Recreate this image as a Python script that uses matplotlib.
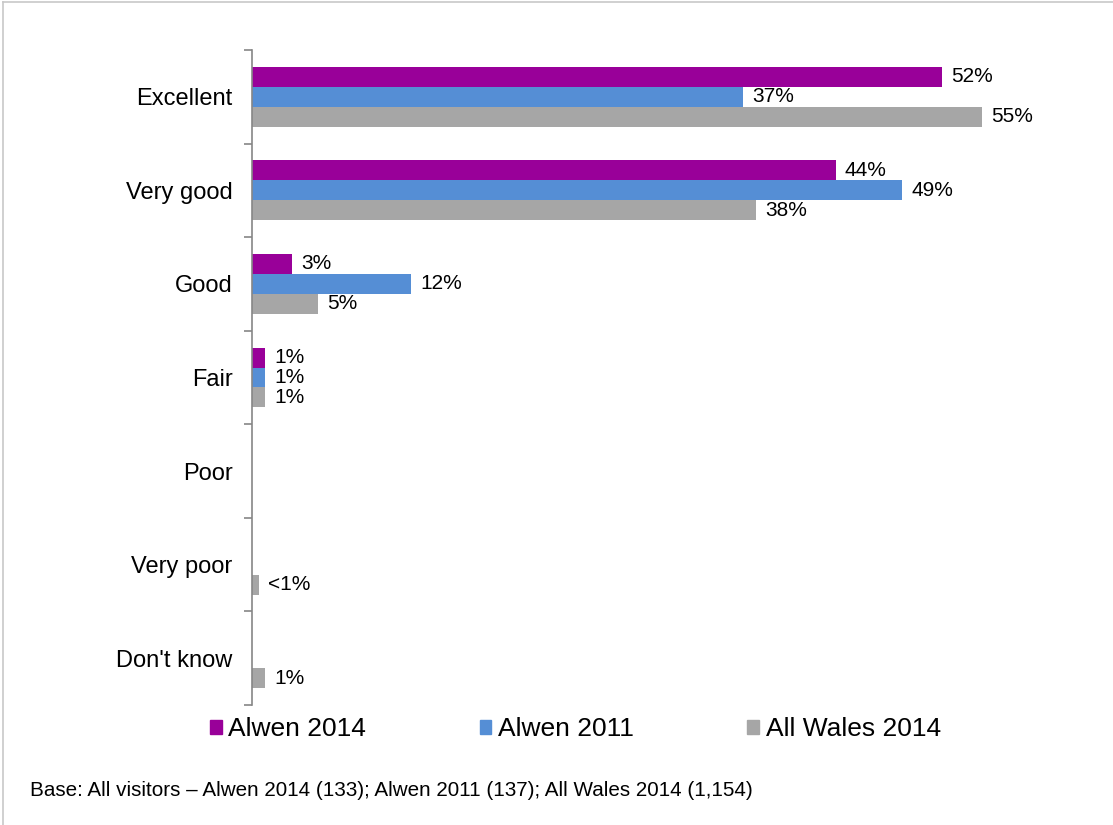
import matplotlib.pyplot as plt
import numpy as np
from matplotlib.lines import Line2D
from matplotlib.patches import Patch

plt.rcParams["font.family"] = ["Liberation Sans", "DejaVu Sans"]

categories = ["Excellent", "Very good", "Good", "Fair", "Poor", "Very poor", "Don't know"]
series = ["Alwen 2014", "Alwen 2011", "All Wales 2014"]
alwen_2014 = [52, 44, 3, 1, 0, 0, 0]
alwen_2011 = [37, 49, 12, 1, 0, 0, 0]
all_wales_2014 = [55, 38, 5, 1, 0, 0.5, 1]
labels_2014 = ["52%", "44%", "3%", "1%", "", "", ""]
labels_2011 = ["37%", "49%", "12%", "1%", "", "", ""]
labels_wales = ["55%", "38%", "5%", "1%", "", "<1%", "1%"]
colors = ["#990099", "#558ED5", "#A6A6A6"]


def main() -> None:
    fig = plt.figure(figsize=(11.13, 8.25), dpi=100)
    ax = fig.add_axes([252 / 1113, 1 - 705 / 825, (1048 - 252) / 1113, (705 - 50) / 825])

    y = np.arange(len(categories))
    h = 0.2137
    data = [alwen_2014, alwen_2011, all_wales_2014]
    labels = [labels_2014, labels_2011, labels_wales]
    for i, (vals, labs, col) in enumerate(zip(data, labels, colors)):
        bars = ax.barh(y + (i - 1) * h, vals, h, color=col, label=series[i])
        ax.bar_label(bars, labels=labs, padding=6.5, fontsize=15)

    ax.set_xlim(0, 60)
    ax.set_ylim(len(categories) - 0.5, -0.5)
    ax.set_yticks(y, categories, fontsize=17)
    ax.tick_params(axis="y", which="major", length=0, pad=14)
    ax.set_yticks(np.arange(-0.5, len(categories)), minor=True)
    ax.tick_params(axis="y", which="minor", length=6, color="#868686", width=1.2)
    ax.set_xticks([])
    for s in ["top", "right", "bottom"]:
        ax.spines[s].set_visible(False)
    ax.spines["left"].set_color("#868686")
    ax.spines["left"].set_linewidth(1.2)

    handles = [Patch(color=c) for c in colors]
    fig.legend(handles, series, loc="center", bbox_to_anchor=(0.517, 1 - 729 / 825),
               ncol=3, frameon=False, fontsize=19, handlelength=0.45, handleheight=0.45,
               handletextpad=0.25, columnspacing=4.3)

    fig.text(30 / 1113, 1 - 790 / 825,
             "Base: All visitors \u2013 Alwen 2014 (133); Alwen 2011 (137); All Wales 2014 (1,154)",
             fontsize=14.9, va="center")

    # light border round the chart area
    fig.add_artist(Line2D([3 / 1113, 3 / 1113], [0, 1 - 2 / 825], color="#C8C8C8", lw=1.2))
    fig.add_artist(Line2D([3 / 1113, 1], [1 - 2 / 825, 1 - 2 / 825], color="#C8C8C8", lw=1.2))

    fig.savefig("out.png", dpi=100)
    plt.close(fig)


if __name__ == "__main__":
    main()
